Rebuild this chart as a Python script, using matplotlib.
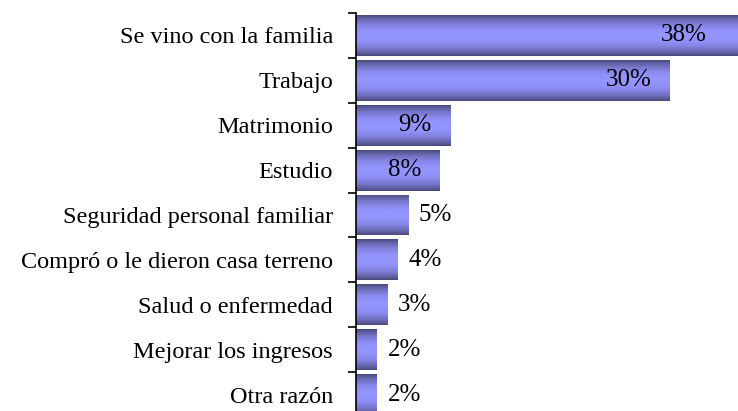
import numpy as np
import matplotlib.pyplot as plt
from matplotlib.colors import LinearSegmentedColormap

categorias = ['Se vino con la familia', 'Trabajo', 'Matrimonio', 'Estudio',
              'Seguridad personal familiar', 'Compró o le dieron casa terreno',
              'Salud o enfermedad', 'Mejorar los ingresos', 'Otra razón']
valores = [38, 30, 9, 8, 5, 4, 3, 2, 2]
etiquetas = ['38%', '30%', '9%', '8%', '5%', '4%', '3%', '2%', '2%']

plt.rcParams['font.family'] = ['Liberation Serif', 'DejaVu Serif']

fig = plt.figure(figsize=(7.38, 4.11), dpi=100)
ax = fig.add_axes([356 / 738, -6 / 411, 382 / 738, 404 / 411])

xmax = 36.5
y = np.arange(len(categorias))
barras = ax.barh(y, valores, height=0.91, color='none', edgecolor='none')

# degradado vertical: oscuro en los bordes, claro en el centro
cmap = LinearSegmentedColormap.from_list('barra', ['#9494ff', '#4a4a7c'])
t = np.abs(np.linspace(-1, 1, 64)) ** 2.2
grad = t.reshape(-1, 1)
for b in barras:
    x0, y0 = b.get_x(), b.get_y()
    w, h = b.get_width(), b.get_height()
    im = ax.imshow(grad, cmap=cmap, vmin=0, vmax=1, aspect='auto',
                   extent=[x0, x0 + w, y0 + h, y0], zorder=2,
                   interpolation='bilinear')
    im.set_clip_path(b)

for i, (v, lab) in enumerate(zip(valores, etiquetas)):
    if v >= 8:
        xt = min(v - 1.8, xmax - 3)
        ax.text(xt, i, lab, ha='right', va='center', fontsize=18, zorder=3)
    else:
        ax.text(v + 1.0, i, lab, ha='left', va='center', fontsize=18, zorder=3)

ax.set_xlim(0, xmax)
ax.set_ylim(len(categorias) - 0.5, -0.5)
ax.set_yticks(y)
ax.set_yticklabels(categorias, fontsize=17.5)
ax.set_yticks(np.arange(len(categorias) + 1) - 0.5, minor=True)
ax.tick_params(axis='y', which='major', length=0, pad=16.5)
ax.tick_params(axis='y', which='minor', length=6, width=1.2, direction='out')
ax.set_xticks([])
for s in ['top', 'right', 'bottom']:
    ax.spines[s].set_visible(False)
ax.spines['left'].set_linewidth(1.2)

plt.savefig('out.png', dpi=100)
